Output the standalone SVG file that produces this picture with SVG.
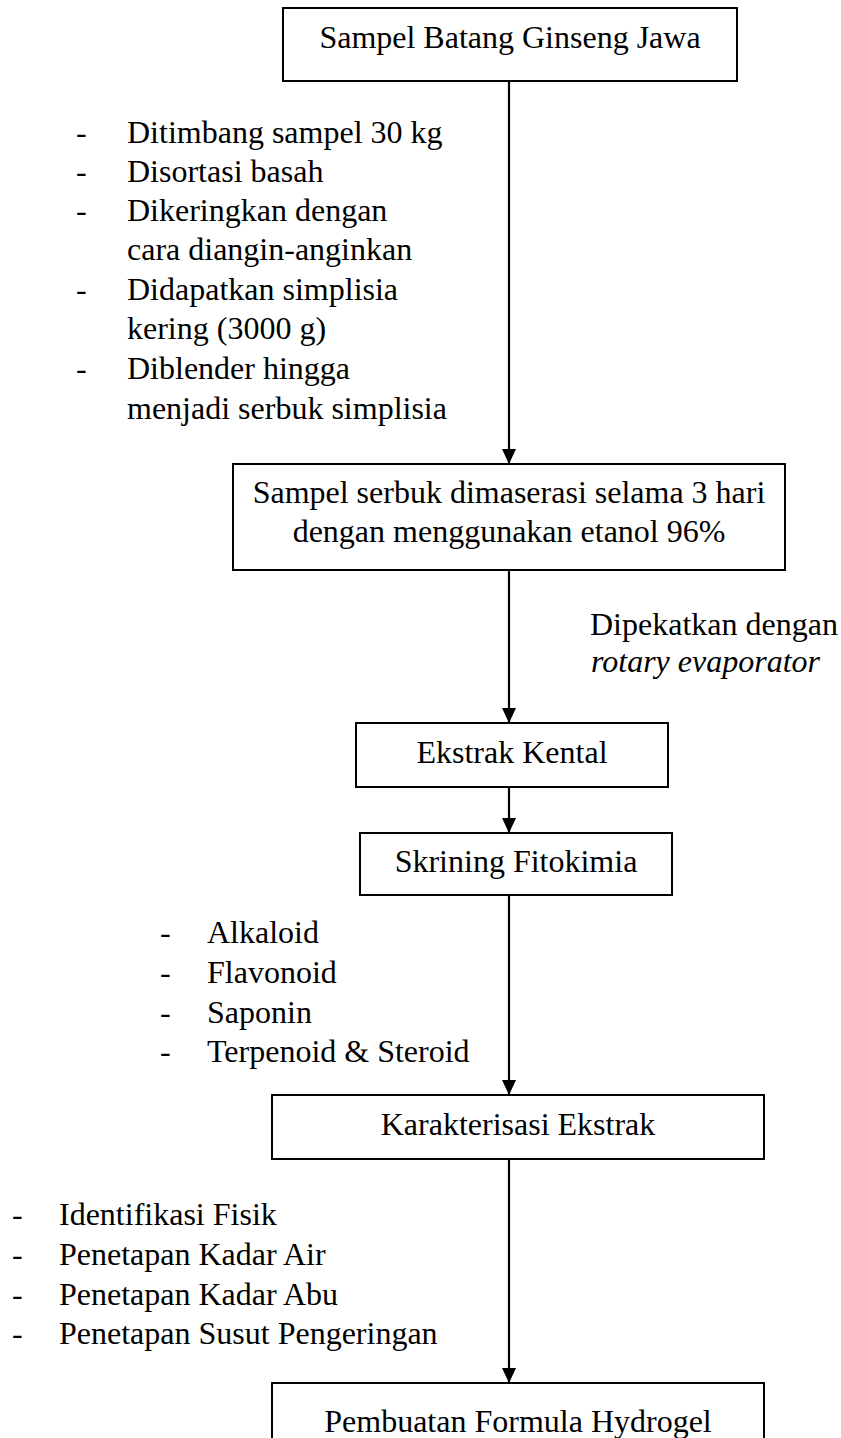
<svg xmlns="http://www.w3.org/2000/svg" width="841" height="1438" viewBox="0 0 841 1438">
<defs>
<marker id="arr" markerUnits="userSpaceOnUse" markerWidth="16" markerHeight="16" viewBox="0 0 16 16" refX="15" refY="8" orient="auto">
<path d="M0,1 L15,8 L0,15 Z" fill="#000"/>
</marker>
<style>
.box{fill:#fff;stroke:#000;stroke-width:2}
.t{font-family:"Liberation Serif","Times New Roman",serif;font-size:32px;fill:#000}
.c{text-anchor:middle}
.i{font-style:italic}
.ln{stroke:#000;stroke-width:2.2;fill:none;marker-end:url(#arr)}
</style>
</defs>
<rect width="841" height="1438" fill="#fff"/>
<g id="connectors">
<line class="ln" x1="509" y1="81" x2="509" y2="464"/>
<line class="ln" x1="509" y1="570" x2="509" y2="723"/>
<line class="ln" x1="509" y1="787" x2="509" y2="833"/>
<line class="ln" x1="509" y1="895" x2="509" y2="1095"/>
<line class="ln" x1="509" y1="1159" x2="509" y2="1383"/>
</g>
<g id="n1">
<rect class="box" x="283" y="8" width="454" height="73"/>
<text class="t c" x="510" y="48">Sampel Batang Ginseng Jawa</text>
</g>
<g id="list1">
<text class="t" x="76" y="143">-</text><text class="t" x="127" y="143">Ditimbang sampel 30 kg</text>
<text class="t" x="76" y="182">-</text><text class="t" x="127" y="182">Disortasi basah</text>
<text class="t" x="76" y="221">-</text><text class="t" x="127" y="221">Dikeringkan dengan</text>
<text class="t" x="127" y="260">cara diangin-anginkan</text>
<text class="t" x="76" y="300">-</text><text class="t" x="127" y="300">Didapatkan simplisia</text>
<text class="t" x="127" y="339">kering (3000 g)</text>
<text class="t" x="76" y="379">-</text><text class="t" x="127" y="379">Diblender hingga</text>
<text class="t" x="127" y="419">menjadi serbuk simplisia</text>
</g>
<g id="n2">
<rect class="box" x="233" y="464" width="552" height="106"/>
<text class="t c" x="509" y="503">Sampel serbuk dimaserasi selama 3 hari</text>
<text class="t c" x="509" y="542">dengan menggunakan etanol 96%</text>
</g>
<g id="label-evap">
<text class="t" x="590" y="635">Dipekatkan dengan</text>
<text class="t i" x="591" y="672">rotary evaporator</text>
</g>
<g id="n3">
<rect class="box" x="356" y="723" width="312" height="64"/>
<text class="t c" x="512" y="763">Ekstrak Kental</text>
</g>
<g id="n4">
<rect class="box" x="360" y="833" width="312" height="62"/>
<text class="t c" x="516" y="872">Skrining Fitokimia</text>
</g>
<g id="list2">
<text class="t" x="160" y="943">-</text><text class="t" x="207" y="943">Alkaloid</text>
<text class="t" x="160" y="983">-</text><text class="t" x="207" y="983">Flavonoid</text>
<text class="t" x="160" y="1023">-</text><text class="t" x="207" y="1023">Saponin</text>
<text class="t" x="160" y="1062">-</text><text class="t" x="207" y="1062">Terpenoid &amp; Steroid</text>
</g>
<g id="n5">
<rect class="box" x="272" y="1095" width="492" height="64"/>
<text class="t c" x="518" y="1135">Karakterisasi Ekstrak</text>
</g>
<g id="list3">
<text class="t" x="12" y="1225">-</text><text class="t" x="59" y="1225">Identifikasi Fisik</text>
<text class="t" x="12" y="1265">-</text><text class="t" x="59" y="1265">Penetapan Kadar Air</text>
<text class="t" x="12" y="1305">-</text><text class="t" x="59" y="1305">Penetapan Kadar Abu</text>
<text class="t" x="12" y="1344">-</text><text class="t" x="59" y="1344">Penetapan Susut Pengeringan</text>
</g>
<g id="n6">
<rect class="box" x="272" y="1383" width="492" height="70"/>
<text class="t c" x="518" y="1432">Pembuatan Formula Hydrogel</text>
</g>
</svg>
